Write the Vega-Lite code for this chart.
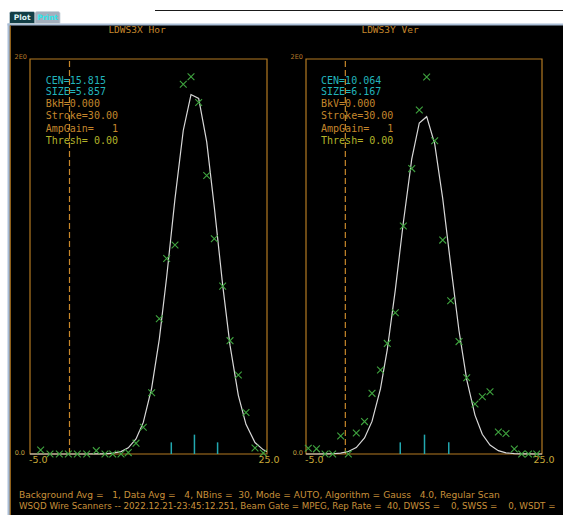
{
"$schema": "https://vega.github.io/schema/vega-lite/v6.json",
"width": 563, "height": 515, "autosize": "none", "padding": 0, "background": "#ffffff",
"config": {"view": {"stroke": null}},
"datasets": {
 "leftPts": [{"x":-3.65,"y":0.02},{"x":-2.47,"y":0},{"x":-1.29,"y":0},{"x":-0.15,"y":0},{"x":0.99,"y":0},{"x":2.18,"y":0},{"x":3.39,"y":0.017},{"x":4.49,"y":0},{"x":5.47,"y":0},{"x":6.52,"y":0},{"x":7.44,"y":0.007},{"x":8.42,"y":0.055},{"x":9.34,"y":0.135},{"x":10.40,"y":0.31},{"x":11.37,"y":0.685},{"x":12.30,"y":0.99},{"x":13.35,"y":1.058},{"x":14.40,"y":1.872},{"x":15.38,"y":1.91},{"x":16.35,"y":1.78},{"x":17.37,"y":1.41},{"x":18.33,"y":1.09},{"x":19.39,"y":0.85},{"x":20.32,"y":0.574},{"x":21.37,"y":0.40},{"x":22.34,"y":0.21},{"x":23.48,"y":0.03},{"x":24.53,"y":0.005}],
 "rightPts": [{"x":-4.71,"y":0.029},{"x":-3.67,"y":0.026},{"x":-2.58,"y":0},{"x":-1.61,"y":0},{"x":-0.59,"y":0.091},{"x":0.38,"y":0},{"x":1.39,"y":0.106},{"x":2.44,"y":0.164},{"x":3.39,"y":0.307},{"x":4.47,"y":0.425},{"x":5.33,"y":0.56},{"x":6.35,"y":0.715},{"x":7.37,"y":1.154},{"x":8.44,"y":1.445},{"x":9.40,"y":1.742},{"x":10.34,"y":1.909},{"x":11.36,"y":1.586},{"x":12.38,"y":1.083},{"x":13.39,"y":0.776},{"x":14.45,"y":0.569},{"x":15.43,"y":0.386},{"x":16.48,"y":0.253},{"x":17.41,"y":0.29},{"x":18.39,"y":0.315},{"x":19.45,"y":0.111},{"x":20.42,"y":0.104},{"x":21.48,"y":0.025},{"x":22.42,"y":0},{"x":23.28,"y":0},{"x":24.33,"y":0}],
 "leftFit": [{"x":-5,"y":0},{"x":-3.65,"y":0},{"x":-2.47,"y":0},{"x":-1.29,"y":0},{"x":-0.15,"y":0},{"x":0.99,"y":0},{"x":2.18,"y":0},{"x":3.39,"y":0.0002},{"x":4.49,"y":0.001},{"x":5.47,"y":0.004},{"x":6.52,"y":0.012},{"x":7.44,"y":0.031},{"x":8.42,"y":0.076},{"x":9.34,"y":0.160},{"x":10.40,"y":0.334},{"x":11.37,"y":0.582},{"x":12.30,"y":0.896},{"x":13.35,"y":1.292},{"x":14.40,"y":1.638},{"x":15.38,"y":1.820},{"x":16.35,"y":1.800},{"x":17.37,"y":1.580},{"x":18.33,"y":1.250},{"x":19.39,"y":0.855},{"x":20.32,"y":0.550},{"x":21.37,"y":0.297},{"x":22.34,"y":0.150},{"x":23.48,"y":0.058},{"x":24.53,"y":0.021},{"x":25,"y":0.013}],
 "rightFit": [{"x":-5,"y":0},{"x":-4.71,"y":0},{"x":-3.67,"y":0},{"x":-2.58,"y":0.0004},{"x":-1.61,"y":0.0013},{"x":-0.59,"y":0.0044},{"x":0.38,"y":0.0124},{"x":1.39,"y":0.0328},{"x":2.44,"y":0.081},{"x":3.39,"y":0.165},{"x":4.47,"y":0.331},{"x":5.33,"y":0.528},{"x":6.35,"y":0.830},{"x":7.37,"y":1.171},{"x":8.44,"y":1.493},{"x":9.40,"y":1.676},{"x":10.34,"y":1.708},{"x":11.36,"y":1.570},{"x":12.38,"y":1.293},{"x":13.39,"y":0.959},{"x":14.45,"y":0.624},{"x":15.43,"y":0.377},{"x":16.48,"y":0.197},{"x":17.41,"y":0.100},{"x":18.39,"y":0.045},{"x":19.45,"y":0.017},{"x":20.42,"y":0.006},{"x":21.48,"y":0.002},{"x":22.42,"y":0.0006},{"x":23.28,"y":0.0002},{"x":24.33,"y":0},{"x":25,"y":0}],
 "leftTicks": [{"x":12.885,"y":0,"k":"a"},{"x":12.885,"y":0.059,"k":"a"},{"x":15.815,"y":0,"k":"b"},{"x":15.815,"y":0.098,"k":"b"},{"x":18.745,"y":0,"k":"c"},{"x":18.745,"y":0.059,"k":"c"}],
 "rightTicks": [{"x":6.981,"y":0,"k":"a"},{"x":6.981,"y":0.059,"k":"a"},{"x":10.064,"y":0,"k":"b"},{"x":10.064,"y":0.098,"k":"b"},{"x":13.148,"y":0,"k":"c"},{"x":13.148,"y":0.059,"k":"c"}],
 "zeroLine": [{"x":0,"y":0},{"x":0,"y":2}],
 "leftInfo": [{"label":"CEN=15.815","y":1.890,"group":"fit"},{"label":"SIZE=5.857","y":1.831,"group":"fit"},{"label":"BkH=0.000","y":1.772,"group":"setting"},{"label":"Stroke=30.00","y":1.710,"group":"setting"},{"label":"AmpGain=\u00a0\u00a0\u00a01","y":1.647,"group":"setting"},{"label":"Thresh=\u00a00.00","y":1.586,"group":"thresh"}],
 "rightInfo": [{"label":"CEN=10.064","y":1.890,"group":"fit"},{"label":"SIZE=6.167","y":1.831,"group":"fit"},{"label":"BkV=0.000","y":1.772,"group":"setting"},{"label":"Stroke=30.00","y":1.710,"group":"setting"},{"label":"AmpGain=\u00a0\u00a0\u00a01","y":1.647,"group":"setting"},{"label":"Thresh=\u00a00.00","y":1.586,"group":"thresh"}]
},
"layer": [
  {"data":{"values":[{}]},"mark":{"type":"rect","fill":"#000000"},"encoding":{"x":{"datum":-7.595,"type":"quantitative","scale":{"domain":[-8.7975,62.4684],"nice":false,"zero":false},"axis":null},"x2":{"datum":62.4684},"y":{"datum":-0.30886,"type":"quantitative","scale":{"domain":[-0.30886,2.29873],"nice":false,"zero":false},"axis":null},"y2":{"datum":2.17722}}},
  {"data":{"values":[{}]},"mark":{"type":"rect","fill":"#a9bdd6"},"encoding":{"x":{"datum":-7.848,"type":"quantitative","scale":{"domain":[-8.7975,62.4684],"nice":false,"zero":false},"axis":null},"x2":{"datum":62.4684},"y":{"datum":2.16962,"type":"quantitative","scale":{"domain":[-0.30886,2.29873],"nice":false,"zero":false},"axis":null},"y2":{"datum":2.17975}}},
  {"data":{"values":[{}]},"mark":{"type":"rect","fill":"#a9bdd6"},"encoding":{"x":{"datum":-7.848,"type":"quantitative","scale":{"domain":[-8.7975,62.4684],"nice":false,"zero":false},"axis":null},"x2":{"datum":-7.595},"y":{"datum":-0.30886,"type":"quantitative","scale":{"domain":[-0.30886,2.29873],"nice":false,"zero":false},"axis":null},"y2":{"datum":2.17975}}},
  {"data":{"values":[{}]},"mark":{"type":"rect","fill":"#b47a22"},"encoding":{"x":{"datum":-7.557,"type":"quantitative","scale":{"domain":[-8.7975,62.4684],"nice":false,"zero":false},"axis":null},"x2":{"datum":-7.430},"y":{"datum":-0.30886,"type":"quantitative","scale":{"domain":[-0.30886,2.29873],"nice":false,"zero":false},"axis":null},"y2":{"datum":2.16962}}},
  {"data":{"values":[{}]},"mark":{"type":"rect","fill":"#1a1a1a"},"encoding":{"x":{"datum":10.823,"type":"quantitative","scale":{"domain":[-8.7975,62.4684],"nice":false,"zero":false},"axis":null},"x2":{"datum":62.4684},"y":{"datum":2.24304,"type":"quantitative","scale":{"domain":[-0.30886,2.29873],"nice":false,"zero":false},"axis":null},"y2":{"datum":2.24810}}},
  {"data":{"values":[{}]},"mark":{"type":"rect","fill":"#123e46","stroke":"#c8d4dc","strokeWidth":0.8,"cornerRadiusTopLeft":2,"cornerRadiusTopRight":2},"encoding":{"x":{"datum":-7.595,"type":"quantitative","scale":{"domain":[-8.7975,62.4684],"nice":false,"zero":false},"axis":null},"x2":{"datum":-4.367},"y":{"datum":2.17975,"type":"quantitative","scale":{"domain":[-0.30886,2.29873],"nice":false,"zero":false},"axis":null},"y2":{"datum":2.24051}}},
  {"data":{"values":[{}]},"mark":{"type":"rect","fill":"#a3afbd","stroke":"#c8d4dc","strokeWidth":0.8,"cornerRadiusTopLeft":2,"cornerRadiusTopRight":2},"encoding":{"x":{"datum":-4.367,"type":"quantitative","scale":{"domain":[-8.7975,62.4684],"nice":false,"zero":false},"axis":null},"x2":{"datum":-1.2025},"y":{"datum":2.17975,"type":"quantitative","scale":{"domain":[-0.30886,2.29873],"nice":false,"zero":false},"axis":null},"y2":{"datum":2.24051}}},
  {"data":{"values":[{"t":"Plot"}]},"mark":{"type":"text","font":"DejaVu Sans","fontSize":7.5,"fontWeight":"bold","fill":"#dff4f4","align":"center","baseline":"middle"},"encoding":{"text":{"field":"t","type":"nominal"},"x":{"datum":-5.987,"type":"quantitative","scale":{"domain":[-8.7975,62.4684],"nice":false,"zero":false},"axis":null},"y":{"datum":2.2101,"type":"quantitative","scale":{"domain":[-0.30886,2.29873],"nice":false,"zero":false},"axis":null}}},
  {"data":{"values":[{"t":"Print"}]},"mark":{"type":"text","font":"DejaVu Sans","fontSize":7.5,"fontWeight":"bold","fill":"#2ee6ea","align":"center","baseline":"middle"},"encoding":{"text":{"field":"t","type":"nominal"},"x":{"datum":-2.785,"type":"quantitative","scale":{"domain":[-8.7975,62.4684],"nice":false,"zero":false},"axis":null},"y":{"datum":2.2101,"type":"quantitative","scale":{"domain":[-0.30886,2.29873],"nice":false,"zero":false},"axis":null}}},
  {"data":{"values":[{"t":"LDWS3X Hor"}]},"mark":{"type":"text","font":"DejaVu Sans Mono","fontSize":9.5,"fill":"#c4862c","align":"center","baseline":"middle"},"encoding":{"text":{"field":"t","type":"nominal"},"x":{"datum":8.544,"type":"quantitative","scale":{"domain":[-8.7975,62.4684],"nice":false,"zero":false},"axis":null},"y":{"datum":2.14684,"type":"quantitative","scale":{"domain":[-0.30886,2.29873],"nice":false,"zero":false},"axis":null}}},
  {"data":{"values":[{}]},"mark":{"type":"rect","filled":false,"stroke":"#b47a22","strokeWidth":1.2},"encoding":{"x":{"datum":-5,"type":"quantitative","scale":{"domain":[-8.7975,62.4684],"nice":false,"zero":false},"axis":null},"x2":{"datum":25},"y":{"datum":0,"type":"quantitative","scale":{"domain":[-0.30886,2.29873],"nice":false,"zero":false},"axis":null},"y2":{"datum":2}}},
  {"data":{"name":"leftInfo"},"mark":{"type":"text","font":"DejaVu Sans Mono","fontSize":10,"align":"left","baseline":"middle"},"encoding":{"text":{"field":"label","type":"nominal"},"x":{"datum":-3.01,"type":"quantitative","scale":{"domain":[-8.7975,62.4684],"nice":false,"zero":false},"axis":null},"y":{"field":"y","type":"quantitative","scale":{"domain":[-0.30886,2.29873],"nice":false,"zero":false},"axis":null},"color":{"field":"group","type":"nominal","scale":{"domain":["fit","setting","thresh"],"range":["#22b4bc","#c4862c","#b4b42a"]},"legend":null}}},
  {"data":{"name":"zeroLine"},"mark":{"type":"line","color":"#c8872a","strokeWidth":1.2,"strokeDash":[6,3]},"encoding":{"x":{"field":"x","type":"quantitative","scale":{"domain":[-8.7975,62.4684],"nice":false,"zero":false},"axis":null},"y":{"field":"y","type":"quantitative","scale":{"domain":[-0.30886,2.29873],"nice":false,"zero":false},"axis":null}}},
  {"data":{"name":"leftTicks"},"mark":{"type":"line","color":"#22a8b0","strokeWidth":1.5},"encoding":{"x":{"field":"x","type":"quantitative","scale":{"domain":[-8.7975,62.4684],"nice":false,"zero":false},"axis":null},"y":{"field":"y","type":"quantitative","scale":{"domain":[-0.30886,2.29873],"nice":false,"zero":false},"axis":null},"detail":{"field":"k","type":"nominal"}}},
  {"data":{"name":"leftFit"},"mark":{"type":"line","color":"#d8d8d8","strokeWidth":1.2},"encoding":{"x":{"field":"x","type":"quantitative","scale":{"domain":[-8.7975,62.4684],"nice":false,"zero":false},"axis":null},"y":{"field":"y","type":"quantitative","scale":{"domain":[-0.30886,2.29873],"nice":false,"zero":false},"axis":null}}},
  {"data":{"name":"leftPts"},"mark":{"type":"point","shape":"M-1,-1L1,1M-1,1L1,-1","filled":false,"stroke":"#3fa33f","strokeWidth":1.1,"size":46,"opacity":1},"encoding":{"x":{"field":"x","type":"quantitative","scale":{"domain":[-8.7975,62.4684],"nice":false,"zero":false},"axis":null},"y":{"field":"y","type":"quantitative","scale":{"domain":[-0.30886,2.29873],"nice":false,"zero":false},"axis":null}}},
  {"data":{"values":[{"t":"2E0"}]},"mark":{"type":"text","font":"DejaVu Sans","fontSize":6.5,"fill":"#b87a2a","align":"right","baseline":"middle","dx":-3,"dy":-1.5},"encoding":{"text":{"field":"t","type":"nominal"},"x":{"datum":-5,"type":"quantitative","scale":{"domain":[-8.7975,62.4684],"nice":false,"zero":false},"axis":null},"y":{"datum":2,"type":"quantitative","scale":{"domain":[-0.30886,2.29873],"nice":false,"zero":false},"axis":null}}},
  {"data":{"values":[{"t":"0.0"}]},"mark":{"type":"text","font":"DejaVu Sans","fontSize":6.5,"fill":"#c0a040","align":"right","baseline":"middle","dx":-5,"dy":-1},"encoding":{"text":{"field":"t","type":"nominal"},"x":{"datum":-5,"type":"quantitative","scale":{"domain":[-8.7975,62.4684],"nice":false,"zero":false},"axis":null},"y":{"datum":0,"type":"quantitative","scale":{"domain":[-0.30886,2.29873],"nice":false,"zero":false},"axis":null}}},
  {"data":{"values":[{"t":"-5.0"}]},"mark":{"type":"text","font":"DejaVu Sans","fontSize":9.5,"fill":"#c8a838","align":"left","baseline":"top","dx":-1,"dy":1},"encoding":{"text":{"field":"t","type":"nominal"},"x":{"datum":-5,"type":"quantitative","scale":{"domain":[-8.7975,62.4684],"nice":false,"zero":false},"axis":null},"y":{"datum":0,"type":"quantitative","scale":{"domain":[-0.30886,2.29873],"nice":false,"zero":false},"axis":null}}},
  {"data":{"values":[{"t":"25.0"}]},"mark":{"type":"text","font":"DejaVu Sans","fontSize":9.5,"fill":"#c8a838","align":"center","baseline":"top","dx":2,"dy":1},"encoding":{"text":{"field":"t","type":"nominal"},"x":{"datum":25,"type":"quantitative","scale":{"domain":[-8.7975,62.4684],"nice":false,"zero":false},"axis":null},"y":{"datum":0,"type":"quantitative","scale":{"domain":[-0.30886,2.29873],"nice":false,"zero":false},"axis":null}}},
  {"data":{"values":[{"t":"Background Avg =\u00a0\u00a0\u00a01, Data Avg =\u00a0\u00a0\u00a04, NBins =\u00a0\u00a030, Mode = AUTO, Algorithm = Gauss\u00a0\u00a0\u00a04.0, Regular Scan"}]},"mark":{"type":"text","font":"DejaVu Sans","fontSize":9.1,"fill":"#c8903a","align":"left","baseline":"middle"},"encoding":{"text":{"field":"t","type":"nominal"},"x":{"datum":-6.392,"type":"quantitative","scale":{"domain":[-8.7975,62.4684],"nice":false,"zero":false},"axis":null},"y":{"datum":-0.20759,"type":"quantitative","scale":{"domain":[-0.30886,2.29873],"nice":false,"zero":false},"axis":null}}},
  {"data":{"values":[{"t":"WSQD Wire Scanners -- 2022.12.21-23:45:12.251, Beam Gate = MPEG, Rep Rate =\u00a0\u00a040, DWSS =\u00a0\u00a0\u00a0\u00a00, SWSS =\u00a0\u00a0\u00a0\u00a00, WSDT ="}]},"mark":{"type":"text","font":"DejaVu Sans","fontSize":8.7,"fill":"#c8903a","align":"left","baseline":"middle"},"encoding":{"text":{"field":"t","type":"nominal"},"x":{"datum":-6.392,"type":"quantitative","scale":{"domain":[-8.7975,62.4684],"nice":false,"zero":false},"axis":null},"y":{"datum":-0.2633,"type":"quantitative","scale":{"domain":[-0.30886,2.29873],"nice":false,"zero":false},"axis":null}}},
  {"data":{"values":[{"t":"LDWS3Y Ver"}]},"mark":{"type":"text","font":"DejaVu Sans Mono","fontSize":9.5,"fill":"#c4862c","align":"center","baseline":"middle"},"encoding":{"text":{"field":"t","type":"nominal"},"x":{"datum":5.678,"type":"quantitative","scale":{"domain":[-43.898,27.669],"nice":false,"zero":false},"axis":null},"y":{"datum":2.14684,"type":"quantitative","scale":{"domain":[-0.30886,2.29873],"nice":false,"zero":false},"axis":null}}},
  {"data":{"values":[{}]},"mark":{"type":"rect","filled":false,"stroke":"#b47a22","strokeWidth":1.2},"encoding":{"x":{"datum":-5,"type":"quantitative","scale":{"domain":[-43.898,27.669],"nice":false,"zero":false},"axis":null},"x2":{"datum":25},"y":{"datum":0,"type":"quantitative","scale":{"domain":[-0.30886,2.29873],"nice":false,"zero":false},"axis":null},"y2":{"datum":2}}},
  {"data":{"name":"rightInfo"},"mark":{"type":"text","font":"DejaVu Sans Mono","fontSize":10,"align":"left","baseline":"middle"},"encoding":{"text":{"field":"label","type":"nominal"},"x":{"datum":-3.09,"type":"quantitative","scale":{"domain":[-43.898,27.669],"nice":false,"zero":false},"axis":null},"y":{"field":"y","type":"quantitative","scale":{"domain":[-0.30886,2.29873],"nice":false,"zero":false},"axis":null},"color":{"field":"group","type":"nominal","scale":{"domain":["fit","setting","thresh"],"range":["#22b4bc","#c4862c","#b4b42a"]},"legend":null}}},
  {"data":{"name":"zeroLine"},"mark":{"type":"line","color":"#c8872a","strokeWidth":1.2,"strokeDash":[6,3]},"encoding":{"x":{"field":"x","type":"quantitative","scale":{"domain":[-43.898,27.669],"nice":false,"zero":false},"axis":null},"y":{"field":"y","type":"quantitative","scale":{"domain":[-0.30886,2.29873],"nice":false,"zero":false},"axis":null}}},
  {"data":{"name":"rightTicks"},"mark":{"type":"line","color":"#22a8b0","strokeWidth":1.5},"encoding":{"x":{"field":"x","type":"quantitative","scale":{"domain":[-43.898,27.669],"nice":false,"zero":false},"axis":null},"y":{"field":"y","type":"quantitative","scale":{"domain":[-0.30886,2.29873],"nice":false,"zero":false},"axis":null},"detail":{"field":"k","type":"nominal"}}},
  {"data":{"name":"rightFit"},"mark":{"type":"line","color":"#d8d8d8","strokeWidth":1.2},"encoding":{"x":{"field":"x","type":"quantitative","scale":{"domain":[-43.898,27.669],"nice":false,"zero":false},"axis":null},"y":{"field":"y","type":"quantitative","scale":{"domain":[-0.30886,2.29873],"nice":false,"zero":false},"axis":null}}},
  {"data":{"name":"rightPts"},"mark":{"type":"point","shape":"M-1,-1L1,1M-1,1L1,-1","filled":false,"stroke":"#3fa33f","strokeWidth":1.1,"size":46,"opacity":1},"encoding":{"x":{"field":"x","type":"quantitative","scale":{"domain":[-43.898,27.669],"nice":false,"zero":false},"axis":null},"y":{"field":"y","type":"quantitative","scale":{"domain":[-0.30886,2.29873],"nice":false,"zero":false},"axis":null}}},
  {"data":{"values":[{"t":"2E0"}]},"mark":{"type":"text","font":"DejaVu Sans","fontSize":6.5,"fill":"#b87a2a","align":"right","baseline":"middle","dx":-3,"dy":-1.5},"encoding":{"text":{"field":"t","type":"nominal"},"x":{"datum":-5,"type":"quantitative","scale":{"domain":[-43.898,27.669],"nice":false,"zero":false},"axis":null},"y":{"datum":2,"type":"quantitative","scale":{"domain":[-0.30886,2.29873],"nice":false,"zero":false},"axis":null}}},
  {"data":{"values":[{"t":"0.0"}]},"mark":{"type":"text","font":"DejaVu Sans","fontSize":6.5,"fill":"#c0a040","align":"right","baseline":"middle","dx":-3,"dy":-1},"encoding":{"text":{"field":"t","type":"nominal"},"x":{"datum":-5,"type":"quantitative","scale":{"domain":[-43.898,27.669],"nice":false,"zero":false},"axis":null},"y":{"datum":0,"type":"quantitative","scale":{"domain":[-0.30886,2.29873],"nice":false,"zero":false},"axis":null}}},
  {"data":{"values":[{"t":"-5.0"}]},"mark":{"type":"text","font":"DejaVu Sans","fontSize":9.5,"fill":"#c8a838","align":"left","baseline":"top","dx":-1,"dy":1},"encoding":{"text":{"field":"t","type":"nominal"},"x":{"datum":-5,"type":"quantitative","scale":{"domain":[-43.898,27.669],"nice":false,"zero":false},"axis":null},"y":{"datum":0,"type":"quantitative","scale":{"domain":[-0.30886,2.29873],"nice":false,"zero":false},"axis":null}}},
  {"data":{"values":[{"t":"25.0"}]},"mark":{"type":"text","font":"DejaVu Sans","fontSize":9.5,"fill":"#c8a838","align":"center","baseline":"top","dx":2,"dy":1},"encoding":{"text":{"field":"t","type":"nominal"},"x":{"datum":25,"type":"quantitative","scale":{"domain":[-43.898,27.669],"nice":false,"zero":false},"axis":null},"y":{"datum":0,"type":"quantitative","scale":{"domain":[-0.30886,2.29873],"nice":false,"zero":false},"axis":null}}}
],
"resolve": {"scale": {"x": "independent"}}
}
